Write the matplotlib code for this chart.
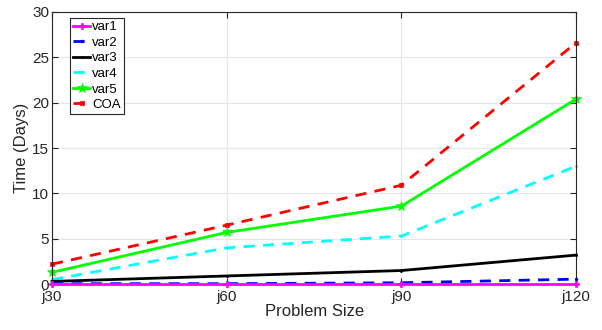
import numpy as np
import matplotlib.pyplot as plt

plt.rcParams["font.family"] = ["Liberation Sans", "DejaVu Sans"]

CATEGORIES = ["j30", "j60", "j90", "j120"]
VAR1 = [0.0, 0.0, 0.0, 0.0]
VAR2 = [0.05, 0.05, 0.15, 0.55]
VAR3 = [0.3, 0.9, 1.5, 3.2]
VAR4 = [0.5, 4.0, 5.3, 13.0]
VAR5 = [1.3, 5.7, 8.6, 20.4]
COA = [2.2, 6.5, 10.9, 26.6]

SERIES = [
    ("var1", VAR1, "#ff00ff", "-", "P", 4, 5),
    ("var2", VAR2, "#0000ff", "--", "o", 2.0, 4),
    ("var3", VAR3, "#000000", "-", "o", 1.5, 3),
    ("var4", VAR4, "#00ffff", "--", "o", 1.5, 2),
    ("var5", VAR5, "#00ff00", "-", "*", 7, 2),
    ("COA", COA, "#ff0000", "--", "s", 3, 1),
]


def main():
    fig = plt.figure(figsize=(6.02, 3.3), dpi=100)
    ax = fig.add_axes([0.0864, 0.139, 0.8706, 0.825])
    x = np.arange(len(CATEGORIES))

    for label, vals, color, ls, marker, ms, z in SERIES:
        ax.plot(x, vals, color=color, linestyle=ls, linewidth=2.0,
                marker=marker, markersize=ms, markerfacecolor=color,
                markeredgecolor=color, markeredgewidth=0.5, label=label,
                zorder=z, dashes=(4, 3) if ls == "--" else (None, None),
                clip_on=False)

    ax.set_xlim(0, len(CATEGORIES) - 1)
    ax.set_ylim(0, 30)
    ax.set_xticks(x)
    ax.set_xticklabels(CATEGORIES)
    ax.set_yticks(np.arange(0, 31, 5))
    ax.grid(True, color="#e6e6e6", linewidth=0.8)
    ax.set_axisbelow(True)
    for s in ax.spines.values():
        s.set_color("#262626")
        s.set_linewidth(0.8)
    ax.tick_params(direction="in", top=True, right=True, length=4,
                   labelsize=11, colors="#262626", pad=2)
    ax.tick_params(axis="x", pad=4)
    ax.set_xlabel("Problem Size", fontsize=12, color="#262626", labelpad=0)
    ax.set_ylabel("Time (Days)", fontsize=12, color="#262626", labelpad=2)

    leg = ax.legend(loc="upper left", bbox_to_anchor=(0.034, 0.978),
                    fontsize=9.5, handlelength=1.3, handletextpad=0.15,
                    borderpad=0.25, labelspacing=0.25, fancybox=False,
                    framealpha=1, edgecolor="#262626", borderaxespad=0)
    leg.get_frame().set_linewidth(0.8)

    fig.savefig("out.png", dpi=100)


if __name__ == "__main__":
    main()
